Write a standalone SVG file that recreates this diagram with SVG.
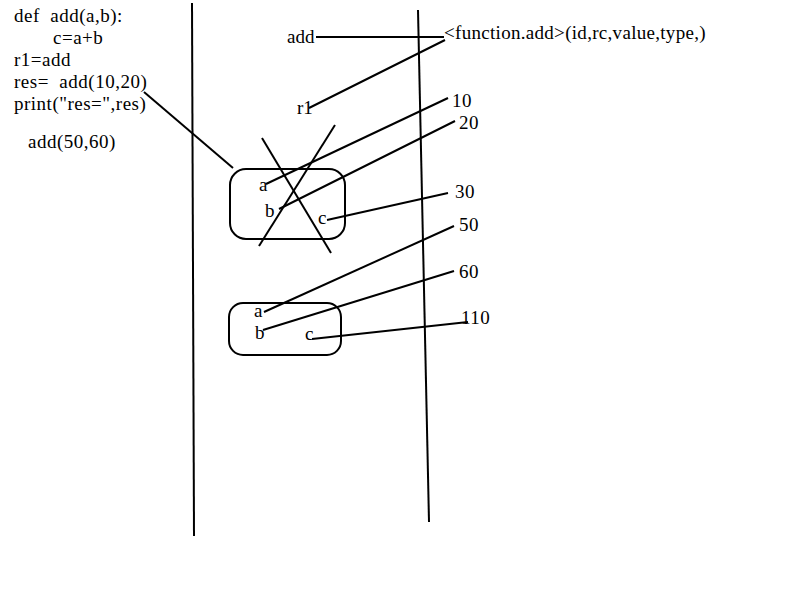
<svg xmlns="http://www.w3.org/2000/svg" width="800" height="600" viewBox="0 0 800 600">
<style>
text{font-family:"Liberation Serif","Times New Roman",serif;font-size:19px;fill:#000;white-space:pre;letter-spacing:0.5px}
line,.frame{stroke:#000;stroke-width:2;fill:none}
</style>
<rect width="800" height="600" fill="#fff"/>
<g id="code">
<text x="14" y="22">def  add(a,b):</text>
<text x="53" y="44">c=a+b</text>
<text x="14" y="66">r1=add</text>
<text x="14" y="88">res=  add(10,20)</text>
<text x="14" y="110">print("res=",res)</text>
<text x="28" y="148">add(50,60)</text>
</g>
<g id="dividers">
<line x1="192" y1="3" x2="194" y2="536"/>
<line x1="418" y1="10" x2="429" y2="522"/>
</g>
<g id="labels">
<text x="287" y="43" style="letter-spacing:0">add</text>
<text x="297" y="114" style="letter-spacing:0">r1</text>
<text x="444" y="39" style="letter-spacing:0.3px">&lt;function.add&gt;(id,rc,value,type,)</text>
<text x="452" y="107">10</text>
<text x="459" y="129">20</text>
<text x="455" y="198">30</text>
<text x="459" y="231">50</text>
<text x="459" y="278">60</text>
<text x="461" y="324">110</text>
</g>
<g id="frame1">
<rect class="frame" x="230" y="169" width="115" height="70" rx="16"/>
<text x="259" y="191">a</text>
<text x="265" y="217">b</text>
<text x="318" y="224">c</text>
</g>
<g id="frame2">
<rect class="frame" x="229" y="303" width="112" height="52" rx="14"/>
<text x="254" y="317">a</text>
<text x="255" y="339">b</text>
<text x="305" y="340">c</text>
</g>
<g id="connectors">
<line x1="144" y1="92" x2="233" y2="168"/>
<line x1="316" y1="37" x2="444" y2="37"/>
<line x1="445" y1="40" x2="309" y2="108"/>
<line x1="448" y1="98" x2="266" y2="184"/>
<line x1="455" y1="121" x2="279" y2="209"/>
<line x1="262" y1="138" x2="331" y2="253"/>
<line x1="335" y1="125" x2="259" y2="246"/>
<line x1="327" y1="220" x2="448" y2="193"/>
<line x1="454" y1="226" x2="264" y2="312"/>
<line x1="454" y1="271" x2="263" y2="330"/>
<line x1="312" y1="339" x2="468" y2="322"/>
</g>
</svg>
